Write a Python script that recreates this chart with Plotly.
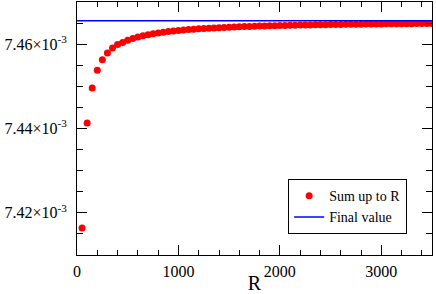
import plotly.graph_objects as go

R_values = [50 * i for i in range(1, 71)]
sum_up_to_R = [
    7.41640, 7.44130, 7.44960, 7.45380, 7.45630, 7.45790, 7.45910, 7.45990, 7.46040, 7.46092,
    7.46134, 7.46170, 7.46200, 7.46225, 7.46247, 7.46267, 7.46284, 7.46299, 7.46313, 7.46325,
    7.46336, 7.46346, 7.46355, 7.46364, 7.46372, 7.46379, 7.46385, 7.46392, 7.46397, 7.46403,
    7.46408, 7.46412, 7.46417, 7.46421, 7.46425, 7.46429, 7.46432, 7.46435, 7.46439, 7.46441,
    7.46444, 7.46447, 7.46450, 7.46452, 7.46454, 7.46457, 7.46459, 7.46461, 7.46463, 7.46465,
    7.46467, 7.46468, 7.46470, 7.46472, 7.46473, 7.46475, 7.46476, 7.46478, 7.46479, 7.46480,
    7.46482, 7.46483, 7.46484, 7.46485, 7.46486, 7.46487, 7.46488, 7.46489, 7.46490, 7.46491,
]
sum_up_to_R = [v * 1e-3 for v in sum_up_to_R]
final_value = 7.46558e-3
final_x = [0, 3500]

x_tickvals = [0, 1000, 2000, 3000]
x_ticktext = ["0", "1000", "2000", "3000"]
y_tickvals = [7.42e-3, 7.44e-3, 7.46e-3]
y_ticktext = ["7.42×10<sup>-3</sup>", "7.44×10<sup>-3</sup>", "7.46×10<sup>-3</sup>"]

font_family = "Liberation Serif, Times New Roman, serif"

fig = go.Figure()
fig.add_trace(go.Scatter(
    x=R_values, y=sum_up_to_R, mode="markers", name="Sum up to R",
    marker=dict(color="#ff0000", size=7, line=dict(width=0)),
))
fig.add_trace(go.Scatter(
    x=final_x, y=[final_value, final_value], mode="lines", name="Final value",
    line=dict(color="#0000ff", width=1.5),
))

axis_common = dict(
    showline=True, linecolor="black", linewidth=1, mirror="ticks",
    ticks="inside", ticklen=10, tickwidth=1, tickcolor="black",
    showgrid=False, zeroline=False, automargin=False,
    tickfont=dict(family=font_family, size=16, color="black"),
)

fig.update_xaxes(
    range=[0, 3500], tickvals=x_tickvals, ticktext=x_ticktext,
    minor=dict(dtick=200, tick0=0, ticks="inside", ticklen=5, tickcolor="black", tickwidth=1),
    title=dict(text="R", font=dict(family=font_family, size=20, color="black"), standoff=0),
    ticklabelstandoff=2,
    **axis_common,
)
fig.update_yaxes(
    range=[7.41e-3, 7.47e-3], tickvals=y_tickvals, ticktext=y_ticktext,
    minor=dict(dtick=5e-6, tick0=7.41e-3, ticks="inside", ticklen=6, tickcolor="black", tickwidth=1),
    ticklabelstandoff=6,
    **axis_common,
)

fig.update_layout(
    width=436, height=294,
    margin=dict(l=77, r=4, t=2, b=39),
    paper_bgcolor="white", plot_bgcolor="white",
    showlegend=True,
    legend=dict(
        x=0.93, y=0.30, xanchor="right", yanchor="top",
        bgcolor="white", bordercolor="black", borderwidth=1,
        font=dict(family=font_family, size=14, color="black"),
        itemwidth=30, tracegroupgap=2,
    ),
)

fig.write_html("out.html", config={"displayModeBar": False},
               post_script="document.body.style.margin='0';")
